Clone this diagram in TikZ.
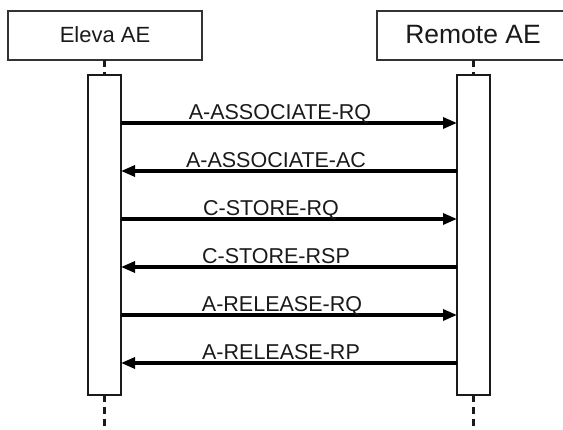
\documentclass[tikz,border=0pt]{standalone}
\usepackage{fontspec}
\setmainfont{Liberation Sans}
\usetikzlibrary{arrows.meta}
\definecolor{ink}{HTML}{1A1A1A}
\definecolor{frame}{HTML}{333333}
\tikzset{
  hdr/.style={draw=frame, line width=2pt, inner sep=0pt, text=ink},
  bar/.style={draw=ink, line width=1.6pt, fill=white},
  life/.style={draw=ink, line width=3pt, dash pattern=on 7pt off 5pt},
  msg/.style={draw=black, line width=3.2pt, -{Triangle[length=14pt,width=11pt]}},
  lbl/.style={anchor=base, text=ink, font=\fontsize{21.5}{23}\selectfont, inner sep=0pt},
}
\begin{document}
\begin{tikzpicture}[x=1pt,y=-1pt]
\useasboundingbox (0,0) rectangle (563,430);
% header boxes
\draw[hdr] (8,11) rectangle (202,60);
\node[text=ink, font=\fontsize{22}{24}\selectfont, anchor=base] (eleva) at (105,43) {Eleva AE};
\draw[hdr] (377,11) rectangle (575,60);
\node[text=ink, font=\fontsize{26.5}{28}\selectfont, anchor=base] (remote) at (473,44) {Remote AE};
% lifelines
\coordinate (lt) at (104.5,60);
\coordinate (lb) at (104.5,395);
\coordinate (le) at (104.5,430);
\coordinate (rt) at (473.5,60);
\coordinate (rb) at (473.5,395);
\coordinate (re) at (473.5,430);
\draw[life] (lt) -- (104.5,75);
\draw[life] (rt) -- (473.5,75);
\draw[life] (lb) -- (le);
\draw[life] (rb) -- (re);
% activation bars
\draw[bar] (88,75) rectangle (121,395);
\draw[bar] (457,75) rectangle (490,395);
% messages
\foreach \i/\y in {1/123,2/171,3/219,4/267,5/315,6/363}{
  \coordinate (l\i) at (121,\y);
  \coordinate (r\i) at (457,\y);
}
\draw[msg] (l1) -- (r1);
\draw[msg] (r2) -- (l2);
\draw[msg] (l3) -- (r3);
\draw[msg] (r4) -- (l4);
\draw[msg] (l5) -- (r5);
\draw[msg] (r6) -- (l6);
\node[lbl] (m1) at (280,120) {A-ASSOCIATE-RQ};
\node[lbl] (m2) at (276,168) {A-ASSOCIATE-AC};
\node[lbl] (m3) at (271,216) {C-STORE-RQ};
\node[lbl] (m4) at (276,264) {C-STORE-RSP};
\node[lbl] (m5) at (282,312) {A-RELEASE-RQ};
\node[lbl] (m6) at (281,360) {A-RELEASE-RP};
\end{tikzpicture}
\end{document}
